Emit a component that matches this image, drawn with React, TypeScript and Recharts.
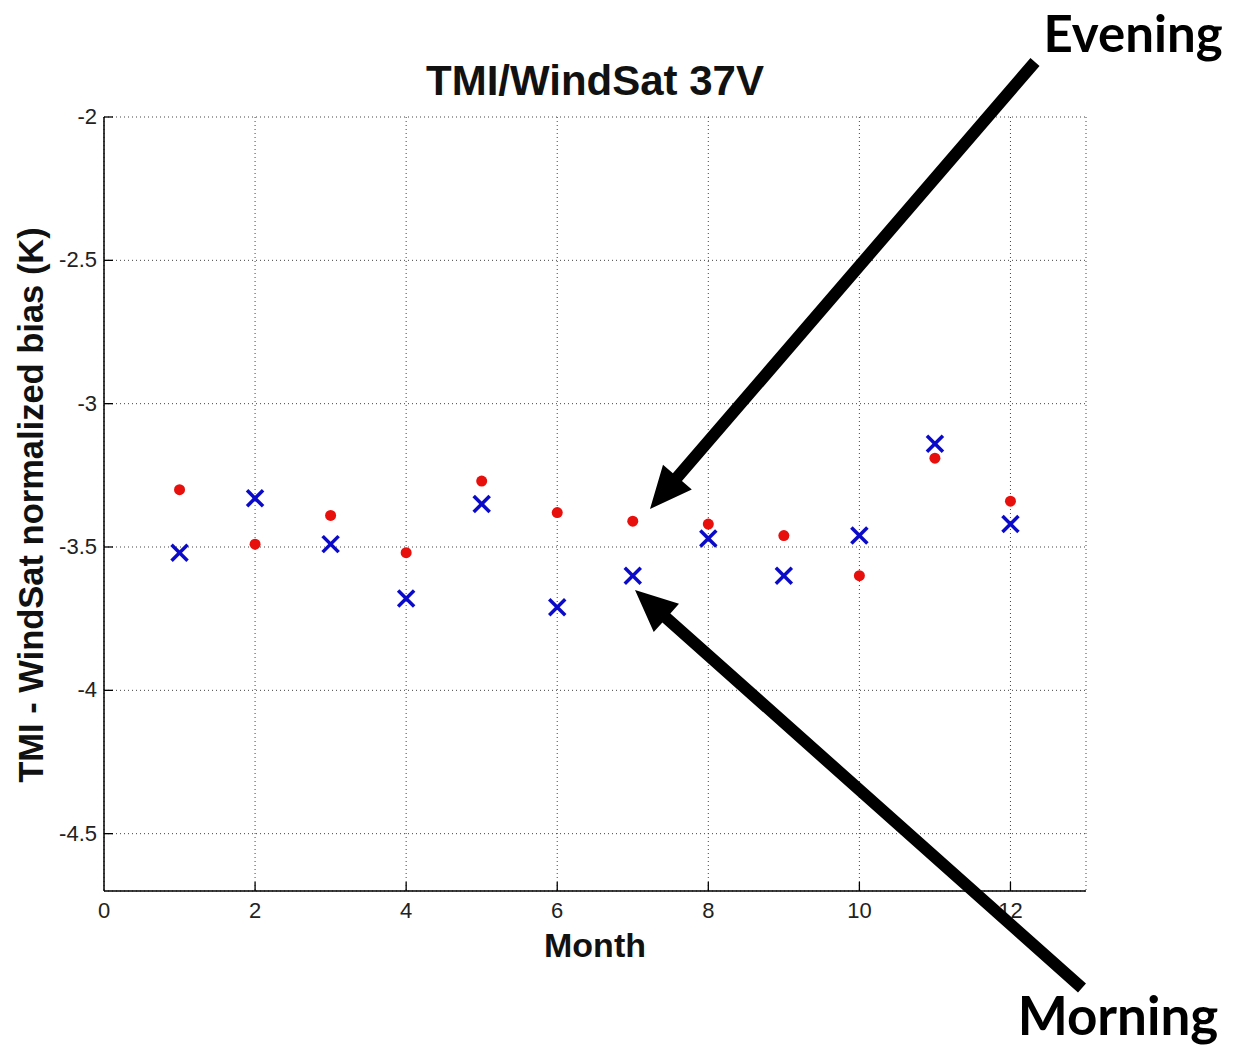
import React from "react";
import { ScatterChart, Scatter, XAxis, YAxis, CartesianGrid } from "recharts";

const months = [1, 2, 3, 4, 5, 6, 7, 8, 9, 10, 11, 12];
const evening = [-3.3, -3.49, -3.39, -3.52, -3.27, -3.38, -3.41, -3.42, -3.46, -3.6, -3.19, -3.34];
const morning = [-3.52, -3.33, -3.49, -3.68, -3.35, -3.71, -3.6, -3.47, -3.6, -3.46, -3.14, -3.42];
const xTicks = [0, 2, 4, 6, 8, 10, 12];
const yTicks = [-4.5, -4, -3.5, -3, -2.5, -2];

const eveningData = months.map((m, i) => ({ month: m, bias: evening[i] }));
const morningData = months.map((m, i) => ({ month: m, bias: morning[i] }));

const TICK_MARGIN = 10;
const tickFont = { fontFamily: "Liberation Sans, Arial, sans-serif", fontSize: 22, fill: "#222" };

const XTick = (props: any) => {
  const { x, y, payload } = props;
  const axisY = y - TICK_MARGIN;
  return (
    <g>
      {payload.value !== 0 && <line x1={x} x2={x} y1={axisY} y2={axisY - 9} stroke="#000" strokeWidth={1.3} />}
      <text x={x} y={y} dy={17} textAnchor="middle" {...tickFont}>
        {payload.value}
      </text>
    </g>
  );
};

const YTick = (props: any) => {
  const { x, y, payload } = props;
  const axisX = x + 7;
  return (
    <g>
      <line x1={axisX} x2={axisX + 9} y1={y} y2={y} stroke="#000" strokeWidth={1.3} />
      <text x={x} y={y} dy={7} textAnchor="end" {...tickFont}>
        {payload.value}
      </text>
    </g>
  );
};

const Dot = (props: any) => <circle cx={props.cx} cy={props.cy} r={5.5} fill="#e8100c" />;

const Cross = (props: any) => {
  const { cx, cy } = props;
  const s = 8;
  return (
    <g stroke="#0a0ac8" strokeWidth={3.5}>
      <line x1={cx - s} y1={cy - s} x2={cx + s} y2={cy + s} />
      <line x1={cx - s} y1={cy + s} x2={cx + s} y2={cy - s} />
    </g>
  );
};

// thick arrow annotation from tail to tip
function arrowPath(tx: number, ty: number, hx: number, hy: number, w: number, headLen: number, headW: number) {
  const dx = hx - tx;
  const dy = hy - ty;
  const len = Math.sqrt(dx * dx + dy * dy);
  const ux = dx / len;
  const uy = dy / len;
  const px = -uy;
  const py = ux;
  const bx = hx - ux * headLen;
  const by = hy - uy * headLen;
  const pts = [
    [tx + px * w, ty + py * w],
    [bx + px * w, by + py * w],
    [bx + px * headW, by + py * headW],
    [hx, hy],
    [bx - px * headW, by - py * headW],
    [bx - px * w, by - py * w],
    [tx - px * w, ty - py * w],
  ];
  return pts.map((p) => p.join(",")).join(" ");
}

export default function App() {
  return (
    <div style={{ position: "absolute", left: 0, top: 0, width: 1233, height: 1050, background: "#fff" }}>
      <ScatterChart width={1233} height={1050} margin={{ top: 117, right: 147, bottom: 119, left: 44 }}>
        <CartesianGrid stroke="#444" strokeDasharray="1 3" />
        <XAxis
          type="number"
          dataKey="month"
          domain={[0, 13]}
          ticks={xTicks}
          height={40}
          tickSize={0}
          tickMargin={TICK_MARGIN}
          tick={<XTick />}
          axisLine={{ stroke: "#000", strokeWidth: 1.5 }}
          tickLine={false}
          allowDataOverflow
        />
        <YAxis
          type="number"
          dataKey="bias"
          domain={[-4.7, -2]}
          ticks={yTicks}
          width={60}
          tickSize={0}
          tickMargin={7}
          tick={<YTick />}
          axisLine={{ stroke: "#000", strokeWidth: 1.5 }}
          tickLine={false}
          allowDataOverflow
        />
        <Scatter data={eveningData} shape={<Dot />} isAnimationActive={false} />
        <Scatter data={morningData} shape={<Cross />} isAnimationActive={false} />
      </ScatterChart>
      <svg
        width={1233}
        height={1050}
        style={{ position: "absolute", left: 0, top: 0, pointerEvents: "none" }}
      >
        <text x={595} y={95} textAnchor="middle" fontFamily="Liberation Sans, Arial, sans-serif" fontWeight="bold" fontSize={42} fill="#111">
          TMI/WindSat 37V
        </text>
        <text x={595} y={957} textAnchor="middle" fontFamily="Liberation Sans, Arial, sans-serif" fontWeight="bold" fontSize={34} fill="#111">
          Month
        </text>
        <text
          x={0}
          y={0}
          transform="translate(43,505) rotate(-90)"
          textAnchor="middle"
          fontFamily="Liberation Sans, Arial, sans-serif"
          fontWeight="bold"
          fontSize={34.5}
          fill="#111"
        >
          TMI - WindSat normalized bias (K)
        </text>
        <polygon points={arrowPath(1035, 62, 650, 509, 6, 42, 19)} fill="#000" />
        <polygon points={arrowPath(1082, 988, 635, 590, 6, 42, 19)} fill="#000" />
        <text x={1133} y={52} textAnchor="middle" fontFamily="Lato, sans-serif" fontWeight="bold" fontSize={51} fill="#000">
          Evening
        </text>
        <text x={1118} y={1035} textAnchor="middle" fontFamily="Lato, sans-serif" fontWeight="bold" fontSize={53} fill="#000">
          Morning
        </text>
      </svg>
    </div>
  );
}
